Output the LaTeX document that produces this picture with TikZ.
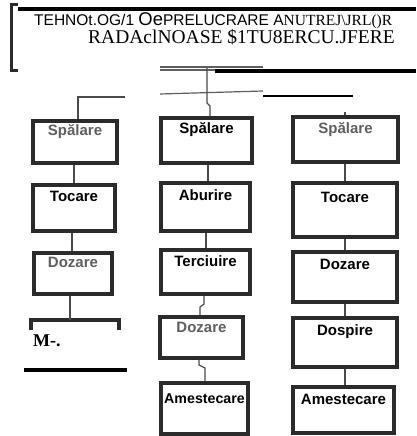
\documentclass[tikz,border=0pt]{standalone}
\usepackage{fontspec}
\setmainfont{Liberation Sans}
\newfontfamily\ocrserif{Liberation Serif}
\usepackage{graphicx}
\usepackage{tikz}
\usetikzlibrary{positioning}
\definecolor{Ink}{HTML}{2B2B2B}
\definecolor{Pencil}{HTML}{4A4A4A}
\definecolor{Faded}{HTML}{5E5E5E}

\begin{document}
\begin{tikzpicture}[x=1pt, y=-1pt,
    stage/.style={draw=Ink, line width=3.2pt, inner sep=0pt},
    stagetxt/.style={font=\fontsize{15}{16}\selectfont\bfseries, inner sep=0pt, anchor=center},
    link/.style={draw=Pencil, line width=1.2pt},
    bar/.style={draw=black, line width=4pt}
]
\useasboundingbox (0,0) rectangle (416,436);

% Title
\draw[bar] (18,9.5) -- (416,9.5);
\draw[Ink, line width=3pt] (18,5) -- (11,5) -- (11,70) -- (18,70);
\node[anchor=west, inner sep=0pt] (title1) at (34,21)
    {\resizebox{358pt}{!}{\fontsize{16}{16}\selectfont TEHNOt.OG/1 {\fontsize{19}{19}\selectfont Oe}PRELUCRARE A{\ocrserif NUTREJ\textbackslash JRL()R}}};
\node[anchor=west, inner sep=0pt] (title2) at (88,37.5)
    {\ocrserif\fontsize{19.5}{19.5}\selectfont RADAclNOASE \$1TU8ERCU.JFERE};

% Top rules
\draw[Faded, line width=1.2pt] (160,67) -- (263,67);
\draw[Faded, line width=1.2pt] (160,70) -- (263,70);
\draw[bar] (215,71) -- (416,71);
\draw[Faded, line width=1.2pt] (160,94) -- (263,91);
\draw[black, line width=1.5pt] (263,96) -- (353,96);

% Left column
\node[stage, minimum width=84pt, minimum height=42pt] (l1) at (75,142) {};
\node[stagetxt, text=Faded] at ([yshift=-12pt]l1.north) {Spălare};
\node[stage, minimum width=82pt, minimum height=46pt] (l2) at (74,208) {};
\node[stagetxt] at ([yshift=-13pt]l2.north) {Tocare};
\node[stage, minimum width=78pt, minimum height=41pt] (l3) at (73,273.5) {};
\node[stagetxt, text=Faded] at ([yshift=-11pt]l3.north) {Dozare};
\coordinate (l4) at (70,320);
\draw[Ink, line width=3.2pt] (31,330) -- (31,320) -- (119,320) -- (119,330);
\coordinate (ltop) at (78,97);
\coordinate (lx2) at (74,0);
\coordinate (lx3) at (72,0);
\draw[link] (125,97) -- (ltop) -- (l1.north -| ltop);
\draw[link] (l1.south -| lx2) -- (l2.north -| lx2);
\draw[link] (l2.south -| lx3) -- (l3.north -| lx3);
\draw[link] (l3.south -| l4) -- (l4);
\node[anchor=west, inner sep=0pt, font=\ocrserif\fontsize{18}{18}\selectfont\bfseries] (mark) at (33,341) {M-.};
\draw[bar] (24,370) -- (127,370);

% Middle column
\node[stage, minimum width=91pt, minimum height=45pt] (m1) at (206.5,140.5) {};
\node[stagetxt] at ([yshift=-13pt]m1.north) {Spălare};
\node[stage, minimum width=89pt, minimum height=48pt] (m2) at (205.5,207) {};
\node[stagetxt] at ([yshift=-14pt]m2.north) {Aburire};
\node[stage, minimum width=89pt, minimum height=44pt] (m3) at (205.5,272) {};
\node[stagetxt] at ([yshift=-13pt]m3.north) {Terciuire};
\node[stage, minimum width=83pt, minimum height=41pt] (m4) at (201.5,337.5) {};
\node[stagetxt, text=Faded] at ([yshift=-12pt]m4.north) {Dozare};
\node[stage, minimum width=87pt, minimum height=51pt] (m5) at (204.5,408.5) {};
\node[stagetxt, font=\fontsize{14.2}{15}\selectfont\bfseries] at ([yshift=-17pt]m5.north) {Amestecare};
\coordinate (mtop) at (207,68);
\coordinate (mx1) at (210,0);
\coordinate (mx2) at (208,0);
\coordinate (mx3) at (206,0);
\coordinate (mx4) at (204,0);
\coordinate (mx5) at (200,0);
\coordinate (mx6) at (199,0);
\coordinate (mx7) at (205,0);
\draw[link] (mtop) -- (207,103) -- (210,106) -- (m1.north -| mx1);
\draw[link] (m1.south -| mx2) -- (m2.north -| mx2);
\draw[link] (m2.south -| mx3) -- (m3.north -| mx3);
\draw[link] (m3.south -| mx4) -- (204,304) -- (200,307) -- (m4.north -| mx5);
\draw[link] (m4.south -| mx6) -- (199,365) -- (205,368) -- (m5.north -| mx7);

% Right column
\node[stage, minimum width=105pt, minimum height=45pt] (r1) at (345.5,139.5) {};
\node[stagetxt, text=Faded] at ([yshift=-14pt]r1.north) {Spălare};
\node[stage, minimum width=104pt, minimum height=54pt] (r2) at (345,210) {};
\node[stagetxt] at ([yshift=-16pt]r2.north) {Tocare};
\node[stage, minimum width=104pt, minimum height=50pt] (r3) at (345,277) {};
\node[stagetxt] at ([yshift=-14pt]r3.north) {Dozare};
\node[stage, minimum width=104pt, minimum height=49pt] (r4) at (345,342.5) {};
\node[stagetxt] at ([yshift=-15pt]r4.north) {Dospire};
\node[stage, minimum width=101pt, minimum height=46pt] (r5) at (343.5,410) {};
\node[stagetxt] at ([yshift=-14pt]r5.north) {Amestecare};
\coordinate (rtop) at (345,112);
\draw[link] (rtop) -- (r1.north -| rtop);
\draw[link] (r1.south -| rtop) -- (r2.north -| rtop);
\draw[link] (r2.south -| rtop) -- (r3.north -| rtop);
\draw[link] (r3.south -| rtop) -- (r4.north -| rtop);
\draw[link] (r4.south -| rtop) -- (r5.north -| rtop);

\end{tikzpicture}
\end{document}
